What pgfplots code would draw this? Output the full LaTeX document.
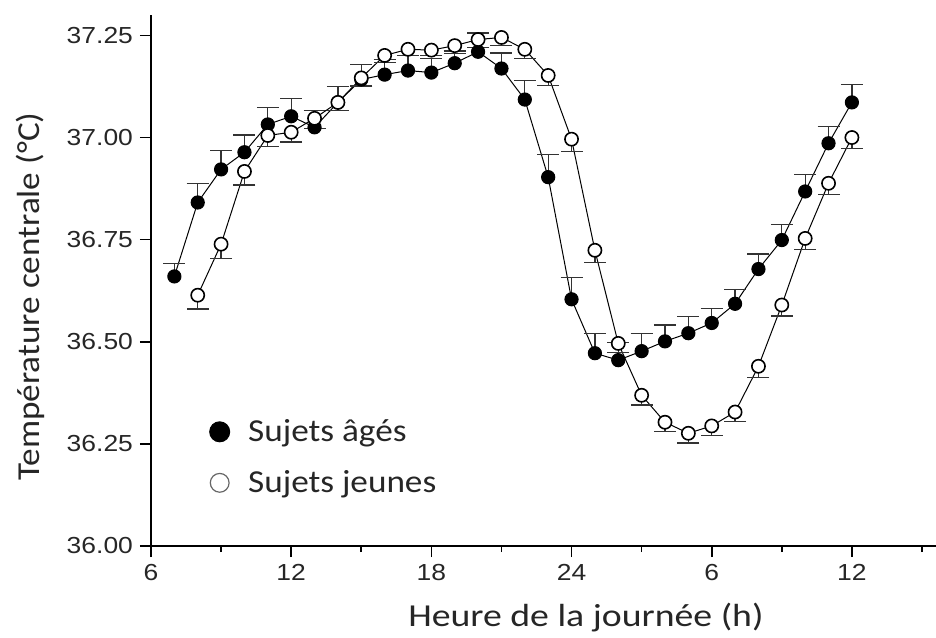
\documentclass[border=0pt]{standalone}
\usepackage{fontspec}
\usepackage{pgfplots}
\pgfplotsset{compat=1.18}
\setmainfont{Carlito}
\newfontfamily\labfont[FakeStretch=1.18]{Carlito}
\newfontfamily\legfont[FakeStretch=1.1]{Carlito}
\newfontfamily\ylabfont[FakeStretch=1.1]{Carlito}
\newfontfamily\tickfontfam[FakeStretch=1.14]{Liberation Sans}

\pgfplotstableread{
x y e
7 36.660 0.032
8 36.841 0.046
9 36.922 0.046
10 36.964 0.042
11 37.032 0.042
12 37.052 0.044
13 37.025 0.042
14 37.086 0.039
15 37.142 0.037
16 37.154 0.038
17 37.164 0.037
18 37.159 0.035
19 37.182 0.030
20 37.210 0.046
21 37.169 0.038
22 37.093 0.046
23 36.903 0.056
24 36.604 0.054
25 36.472 0.049
26 36.455 0.043
27 36.477 0.043
28 36.501 0.040
29 36.521 0.041
30 36.546 0.035
31 36.593 0.034
32 36.678 0.037
33 36.749 0.039
34 36.868 0.041
35 36.986 0.041
36 37.086 0.044
}\agees

\pgfplotstableread{
x y e
8 36.614 0.034
9 36.739 0.036
10 36.917 0.033
11 37.005 0.027
12 37.013 0.024
13 37.047 0.024
14 37.086 0.020
15 37.146 0.020
16 37.201 0.018
17 37.216 0.015
18 37.214 0.014
19 37.225 0.020
20 37.240 0.020
21 37.245 0.020
22 37.216 0.022
23 37.152 0.024
24 36.996 0.030
25 36.724 0.030
26 36.496 0.022
27 36.369 0.024
28 36.303 0.022
29 36.276 0.024
30 36.294 0.024
31 36.328 0.024
32 36.440 0.027
33 36.590 0.027
34 36.753 0.027
35 36.888 0.027
36 37.000 0.027
}\jeunes

\begin{document}
\begin{tikzpicture}
\useasboundingbox (-75.5pt,-45.5pt) rectangle (392.5pt,273pt);
\begin{axis}[
  scale only axis, width=392.5pt, height=265.5pt,
  xmin=6, xmax=39.6, ymin=36, ymax=37.30,
  axis x line*=bottom, axis y line*=left,
  axis line style={line width=1pt, black},
  xtick={6,12,18,24,30,36}, xticklabels={6,12,18,24,6,12},
  minor xtick={9,15,21,27,33,39},
  ytick={36,36.25,36.5,36.75,37,37.25},
  tick align=outside, major tick length=5.5pt, minor tick length=3pt,
  every tick/.style={line width=0.8pt, black},
  /pgf/number format/assume math mode=true,
  ticklabel style={font=\fontsize{11.6}{13}\tickfontfam, text=black!85},
  yticklabel style={/pgf/number format/.cd, fixed, fixed zerofill, precision=2},
  xlabel={Heure de la journée (h)},
  ylabel={Température centrale (°C)},
  xlabel style={font=\fontsize{16}{19}\labfont, text=black!85,
    at={(axis description cs:0.554,-0.152)}, anchor=base},
  ylabel style={font=\fontsize{16}{19}\ylabfont, text=black!85,
    at={(axis description cs:-0.154,0.47)}, anchor=center},
  legend style={draw=none, fill=none, at={(axis description cs:0.066,0.167)}, anchor=west,
    font=\fontsize{16}{19}\legfont, text=black!85, row sep=9pt},
  legend cell align=left,
  clip=false,
]
\addplot[black, line width=0.5pt, mark=*, mark size=3.3pt, mark options={fill=black, line width=0.5pt},
  legend image code/.code={\fill[black] (5pt,0pt) circle (5pt); \path (17pt,0pt);},
  error bars/.cd, y dir=plus, y explicit,
  error bar style={line width=0.6pt, black!80},
  error mark options={rotate=90, mark size=5.5pt, line width=0.6pt, black!80}]
  table[x=x, y=y, y error=e] {\agees};
\addlegendentry{Sujets âgés}
\addplot[black, line width=0.5pt, mark=*, mark size=3.3pt, mark options={fill=white, line width=0.8pt},
  legend image code/.code={\draw[black!60, line width=0.6pt, fill=white] (5pt,0pt) circle (4.7pt); \path (17pt,0pt);},
  error bars/.cd, y dir=minus, y explicit,
  error bar style={line width=0.6pt, black!80},
  error mark options={rotate=90, mark size=5.5pt, line width=0.6pt, black!80}]
  table[x=x, y=y, y error=e] {\jeunes};
\addlegendentry{Sujets jeunes}
\end{axis}
\end{tikzpicture}
\end{document}
